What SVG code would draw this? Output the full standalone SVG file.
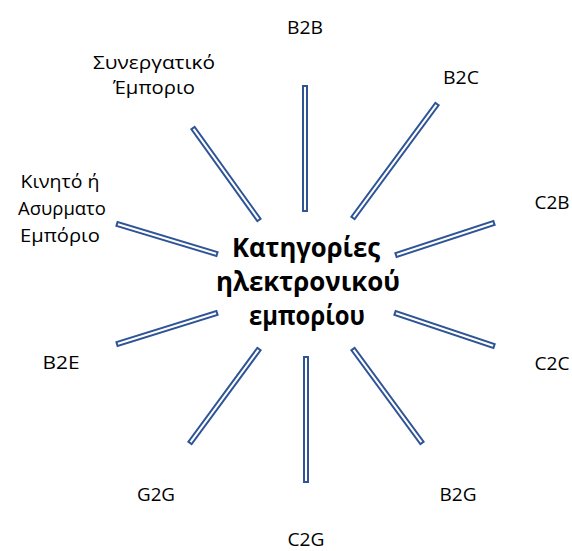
<svg xmlns="http://www.w3.org/2000/svg" width="572" height="551" viewBox="0 0 572 551">
  <style>
    .lbl { font-family: "Open Sans", "Noto Sans", "Liberation Sans", sans-serif; font-size: 18px; fill: #000; text-anchor: middle; }
    .hub { font-family: "Open Sans", "Noto Sans", "Liberation Sans", sans-serif; font-size: 26px; font-weight: bold; fill: #000; text-anchor: middle; }
    .spoke { fill: #fff; stroke: #2F5597; stroke-width: 2; }
  </style>
  <rect width="572" height="551" fill="#fff"/>

  <!-- spokes: thin hollow bars radiating from the central title -->
  <g id="connectors">
    <rect class="spoke" x="0" y="-2" width="125" height="4" transform="translate(305 86) rotate(90)"/>
    <rect class="spoke" x="0" y="-2" width="141.6" height="4" transform="translate(437 104) rotate(126.4)"/>
    <rect class="spoke" x="0" y="-2" width="103.1" height="4" transform="translate(494 223) rotate(161.9)"/>
    <rect class="spoke" x="0" y="-2" width="104.4" height="4" transform="translate(395 313) rotate(18.43)"/>
    <rect class="spoke" x="0" y="-2" width="116.6" height="4" transform="translate(353 349) rotate(53.72)"/>
    <rect class="spoke" x="0" y="-2" width="125" height="4" transform="translate(306 357) rotate(90)"/>
    <rect class="spoke" x="0" y="-2" width="116.6" height="4" transform="translate(259 349) rotate(126.28)"/>
    <rect class="spoke" x="0" y="-2" width="104.7" height="4" transform="translate(217 313) rotate(162.78)"/>
    <rect class="spoke" x="0" y="-2" width="104.4" height="4" transform="translate(117 224) rotate(16.7)"/>
    <rect class="spoke" x="0" y="-2" width="113.2" height="4" transform="translate(193 128) rotate(54.35)"/>
  </g>

  <g id="center">
    <text class="hub" x="306" y="257" textLength="148" lengthAdjust="spacingAndGlyphs">Κατηγορίες</text>
    <text class="hub" x="308" y="291" textLength="184" lengthAdjust="spacingAndGlyphs">ηλεκτρονικού</text>
    <text class="hub" x="307" y="325" textLength="116" lengthAdjust="spacingAndGlyphs">εμπορίου</text>
  </g>

  <g id="b2b"><text class="lbl" x="305" y="34" textLength="36" lengthAdjust="spacingAndGlyphs">B2B</text></g>
  <g id="b2c"><text class="lbl" x="461" y="84" textLength="36" lengthAdjust="spacingAndGlyphs">B2C</text></g>
  <g id="c2b"><text class="lbl" x="552" y="209" textLength="35" lengthAdjust="spacingAndGlyphs">C2B</text></g>
  <g id="c2c"><text class="lbl" x="552" y="370" textLength="35" lengthAdjust="spacingAndGlyphs">C2C</text></g>
  <g id="b2g"><text class="lbl" x="458" y="501" textLength="37" lengthAdjust="spacingAndGlyphs">B2G</text></g>
  <g id="c2g"><text class="lbl" x="306" y="546" textLength="37" lengthAdjust="spacingAndGlyphs">C2G</text></g>
  <g id="g2g"><text class="lbl" x="156" y="501" textLength="38" lengthAdjust="spacingAndGlyphs">G2G</text></g>
  <g id="b2e"><text class="lbl" x="61" y="369" textLength="37" lengthAdjust="spacingAndGlyphs">B2E</text></g>
  <g id="mobile">
    <text class="lbl" x="60" y="188" textLength="79" lengthAdjust="spacingAndGlyphs">Κινητό ή</text>
    <text class="lbl" x="62" y="215" textLength="88" lengthAdjust="spacingAndGlyphs">Ασυρματο</text>
    <text class="lbl" x="60" y="242" textLength="80" lengthAdjust="spacingAndGlyphs">Εμπόριο</text>
  </g>
  <g id="collaborative">
    <text class="lbl" x="154" y="69" textLength="122" lengthAdjust="spacingAndGlyphs">Συνεργατικό</text>
    <text class="lbl" x="154" y="94" textLength="82" lengthAdjust="spacingAndGlyphs">Έμποριο</text>
  </g>
</svg>
